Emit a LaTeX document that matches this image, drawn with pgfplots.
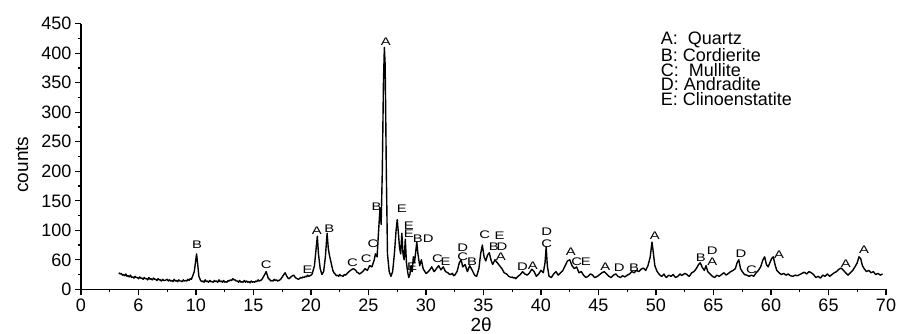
\documentclass[border=0pt]{standalone}
\usepackage{fontspec}
\setmainfont{Liberation Sans}
\usepackage{pgfplots}
\usepackage{pgfplotstable}
\pgfplotsset{compat=1.18}
\pgfplotstableread{
x y
3.3 28
3.4 26
3.5 27
3.6 24
3.7 25
3.8 23
3.9 26
4.0 22
4.1 23
4.2 21
4.3 24
4.4 20
4.5 21
4.6 19
4.7 22
4.8 20
4.9 20
5.0 18
5.1 21
5.2 19
5.3 19
5.4 17
5.5 20
5.6 18
5.7 18
5.8 16
5.9 20
6.0 17
6.1 18
6.2 16
6.3 19
6.4 17
6.5 17
6.6 15
6.7 18
6.8 16
6.9 16
7.0 14
7.1 17
7.2 15
7.3 15
7.4 16
7.5 17
7.6 14
7.7 16
7.8 14
7.9 15
8.0 13
8.1 17
8.2 14
8.3 15
8.4 13
8.5 16
8.6 14
8.7 14
8.8 13
8.9 16
9.0 14
9.1 15
9.2 14
9.3 17
9.4 15
9.5 18
9.6 17
9.7 22
9.85 30
9.95 45
10.05 60
10.15 42
10.25 22
10.4 15
10.5 13
10.6 14
10.7 12
10.8 16
10.9 13
11.0 14
11.1 12
11.2 15
11.3 13
11.4 13
11.5 12
11.6 15
11.7 13
11.8 14
11.9 12
12.0 16
12.1 13
12.2 14
12.3 12
12.4 15
12.5 12
12.6 13
12.7 12
12.8 15
12.9 14
13.0 16
13.1 15
13.2 18
13.3 16
13.4 16
13.5 14
13.6 14
13.7 12
13.8 15
13.9 12
14.0 13
14.1 12
14.2 15
14.3 12
14.4 14
14.5 12
14.6 13
14.7 11
14.8 14
14.9 12
15.0 13
15.1 12
15.2 14
15.3 13
15.4 16
15.5 14
15.6 15
15.7 16
15.8 19
16.0 26
16.1 30
16.2 24
16.3 18
16.4 17
16.5 14
16.6 15
16.7 14
16.8 17
16.9 15
17.0 16
17.1 14
17.2 15
17.3 16
17.4 18
17.6 24
17.75 28
17.9 22
18.0 19
18.1 18
18.2 20
18.3 22
18.5 24
18.6 21
18.7 19
18.8 18
18.9 17
19.0 18
19.1 20
19.2 19
19.3 21
19.4 20
19.5 22
19.6 21
19.7 24
19.8 22
19.9 23
20.0 24
20.1 26
20.3 40
20.45 70
20.55 90
20.65 60
20.8 35
20.95 25
21.1 30
21.25 55
21.4 95
21.5 70
21.6 58
21.75 45
21.9 32
22.0 28
22.1 26
22.2 23
22.3 24
22.4 22
22.5 25
22.6 23
22.7 23
22.8 22
22.9 25
23.0 24
23.1 26
23.2 28
23.3 30
23.5 33
23.7 35
23.9 32
24.0 29
24.1 28
24.2 26
24.3 27
24.5 30
24.7 35
24.9 32
25.1 40
25.3 38
25.5 50
25.6 60
25.75 55
25.85 90
26.0 138
26.1 110
26.2 200
26.3 350
26.38 410
26.45 380
26.55 200
26.65 60
26.8 30
26.95 22
27.1 30
27.25 60
27.4 100
27.5 118
27.6 95
27.7 70
27.8 60
27.9 95
28.0 60
28.1 50
28.2 85
28.3 45
28.4 30
28.5 20
28.6 25
28.7 40
28.8 30
28.9 55
29.0 45
29.2 80
29.3 60
29.45 40
29.6 50
29.75 35
29.9 30
30.0 27
30.1 28
30.2 30
30.3 32
30.5 38
30.7 30
30.8 32
30.9 35
31.1 40
31.3 33
31.5 38
31.7 30
31.8 29
31.9 28
32.0 26
32.1 25
32.2 26
32.3 27
32.4 23
32.5 24
32.7 30
32.9 45
33.05 50
33.2 38
33.4 42
33.6 30
33.8 40
34.0 33
34.2 25
34.3 23
34.4 22
34.6 35
34.75 60
34.9 75
35.05 55
35.2 48
35.35 58
35.5 62
35.65 50
35.8 42
36.0 50
36.2 45
36.4 40
36.6 35
36.8 28
36.9 27
37.0 26
37.1 24
37.2 22
37.3 21
37.4 20
37.5 21
37.6 19
37.7 20
37.8 18
38.0 22
38.2 25
38.4 30
38.6 26
38.8 24
39.0 28
39.2 34
39.4 30
39.6 22
39.8 26
40.0 32
40.2 28
40.35 45
40.45 72
40.55 40
40.7 22
40.8 21
40.9 20
41.0 23
41.1 26
41.3 30
41.5 24
41.7 28
41.9 32
42.1 40
42.3 48
42.5 50
42.7 40
42.9 35
43.1 38
43.3 28
43.5 30
43.7 24
43.9 20
44.0 21
44.1 22
44.2 24
44.3 26
44.5 24
44.6 21
44.7 20
44.8 21
44.9 22
45.1 25
45.3 28
45.5 30
45.7 26
45.9 22
46.0 21
46.1 20
46.2 22
46.3 24
46.5 26
46.7 22
46.8 21
46.9 20
47.1 23
47.3 21
47.5 24
47.7 26
47.9 30
48.1 28
48.3 32
48.5 30
48.7 34
48.9 36
49.1 32
49.3 40
49.5 55
49.65 80
49.75 65
49.9 40
50.1 30
50.3 25
50.4 23
50.5 22
50.7 26
50.8 22
50.9 20
51.0 22
51.1 24
51.3 22
51.5 25
51.6 22
51.7 20
51.8 21
51.9 22
52.1 26
52.2 24
52.3 24
52.5 27
52.7 25
52.8 23
52.9 22
53.1 28
53.3 30
53.5 35
53.7 42
53.85 45
54.0 38
54.2 32
54.35 40
54.5 30
54.7 26
54.9 22
55.0 21
55.1 20
55.2 22
55.3 24
55.5 22
55.7 25
55.9 28
56.1 24
56.3 27
56.5 30
56.7 32
56.9 35
57.05 45
57.2 50
57.35 35
57.5 30
57.7 25
57.9 24
58.1 22
58.3 24
58.5 22
58.7 28
58.9 32
59.1 38
59.3 50
59.45 55
59.6 42
59.75 38
59.9 45
60.05 52
60.2 55
60.35 42
60.5 32
60.7 28
60.9 25
61.0 26
61.1 27
61.3 24
61.5 26
61.6 24
61.7 23
61.9 22
62.0 23
62.1 24
62.3 23
62.5 25
62.7 27
62.9 29
63.1 26
63.3 30
63.5 28
63.7 25
63.9 20
64.1 22
64.3 19
64.5 24
64.7 22
64.9 26
65.1 22
65.3 25
65.5 28
65.7 30
65.9 34
66.1 36
66.3 32
66.5 28
66.7 24
66.9 28
67.1 32
67.3 38
67.5 45
67.65 55
67.8 52
67.95 40
68.1 35
68.3 30
68.5 32
68.7 28
68.9 30
69.1 25
69.3 27
69.5 24
69.7 26
}\xrd
\pgfplotstableread{
x y label
10.1 75 B
16.1 42 C
19.7 34 E
20.5 100 A
21.6 103 B
23.6 45 C
24.8 52 C
25.4 78 C
25.7 140 B
26.5 420 A
27.9 136 E
28.5 108 E
28.5 95 E
29.3 86 B
30.2 86 D
28.8 38 E
31.0 52 C
31.7 46 E
33.2 70 D
33.2 56 C
34.0 46 B
35.1 93 C
36.4 90 E
35.9 72 B
36.6 72 D
36.5 55 A
38.4 38 D
39.3 40 A
40.5 97 D
40.5 78 C
42.6 64 A
43.1 47 C
43.9 47 E
45.6 38 A
46.8 37 D
48.1 37 B
49.9 90 A
53.9 53 B
54.9 66 D
54.9 47 A
57.4 60 D
58.3 33 C
60.7 58 A
66.5 43 A
68.1 67 A
}\peaks
\begin{document}
\begin{tikzpicture}
\begin{axis}[
  scale only axis, width=805pt, height=265.5pt,
  xmin=0, xmax=70, ymin=0, ymax=450,
  axis lines=left, axis line style={line width=1.4pt, -},
  xtick={0,5,...,70},
  xticklabels={0,6,10,15,20,25,30,35,40,45,50,65,60,65,70},
  ytick={0,50,...,450},
  yticklabels={0,60,100,150,200,250,300,350,400,450},
  minor x tick num=1, minor y tick num=1,
  tick align=outside, major tick length=6pt, minor tick length=3pt,
  tick style={line width=1.2pt, black},
  ticklabel style={font=\fontsize{18}{18}\selectfont},
  /pgf/number format/assume math mode=true,
  xlabel={2θ}, ylabel={counts},
  xlabel style={font=\fontsize{19}{19}\selectfont, at={(axis description cs:0.497,-0.132)}, anchor=center},
  ylabel style={font=\fontsize{19}{19}\selectfont, at={(axis description cs:-0.0733,0.47)}, anchor=center, rotate=0},
  clip=false,
]
\addplot[black, line width=1.4pt, sharp plot, mark=none, line join=round] table[x=x, y=y] {\xrd};
\addplot[draw=none, mark=none, nodes near coords={\scalebox{1.35}[1]{\pgfplotspointmeta}},
  point meta=explicit symbolic,
  nodes near coords style={anchor=center, inner sep=0pt, font=\fontsize{11}{11}\selectfont}]
  table[x=x, y=y, meta=label] {\peaks};
\node[anchor=north west, align=left, inner sep=0pt, font=\fontsize{18}{14.5}\selectfont]
  at (axis cs:50.4,437) {A:\ \ Quartz\\B: Cordierite\\C:\ \ Mullite\\D: Andradite\\E: Clinoenstatite};
\end{axis}
\pgfresetboundingbox
\path (-81pt,-43.7pt) rectangle (816pt,289.3pt);
\end{tikzpicture}
\end{document}
